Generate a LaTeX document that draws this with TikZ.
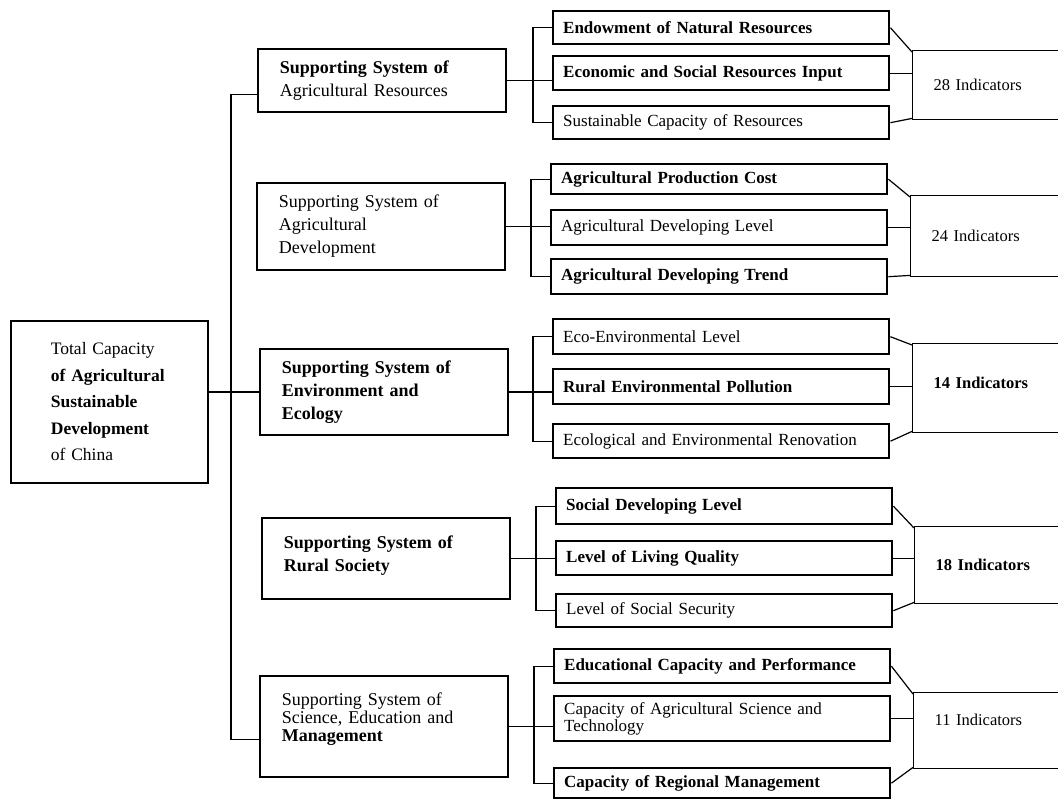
\documentclass[tikz,border=0pt]{standalone}
\usepackage{fontspec}
\setmainfont{Liberation Serif}[WordSpace=1.6]
\begin{document}
\begin{tikzpicture}[x=1pt,y=-1pt,
  every node/.style={anchor=north west, inner ysep=0pt, align=left},
  base/.style={draw, font=\fontsize{17}{19}\selectfont},
  subbox/.style={base, line width=2.4pt, text width=316pt, inner xsep=10pt},
  mainbox/.style={base, line width=1.8pt, text width=204pt, inner xsep=22pt, minimum width=248pt, font=\fontsize{18}{23}\selectfont},
  indbox/.style={base, line width=1.4pt, text width=116pt, inner xsep=21pt, minimum width=158pt, font=\fontsize{16.5}{19}\selectfont},
  totbox/.style={base, line width=1.8pt, text width=117pt, inner xsep=40pt, minimum width=197pt, font=\fontsize{17.5}{26.5}\selectfont},
  link/.style={line width=1.2pt}
]
\useasboundingbox (0,0) rectangle (1058,800);
\clip (0,0) rectangle (1058,800);

% root
\node[totbox, minimum height=162pt] (L) at (10,320) {Total Capacity\\\textbf{of Agricultural}\\\textbf{Sustainable}\\\textbf{Development}\\of China};

% main systems
\node[mainbox, minimum height=63pt] (m1) at (257,48) {\textbf{Supporting System of}\\Agricultural Resources};
\node[mainbox, minimum height=87pt] (m2) at (256,182) {Supporting System of\\Agricultural\\Development};
\node[mainbox, minimum height=86pt] (m3) at (259,348) {\textbf{Supporting System of}\\\textbf{Environment and}\\\textbf{Ecology}};
\node[mainbox, minimum height=81pt] (m4) at (261,517) {\textbf{Supporting System of}\\\textbf{Rural Society}\rule[-10pt]{0pt}{0pt}};
\node[mainbox, minimum height=101pt, font=\fontsize{18}{18}\selectfont] (m5) at (259,675) {Supporting System of\\Science, Education and\\\textbf{Management}\rule[-18pt]{0pt}{0pt}};

% group 1
\node[subbox, minimum height=33pt] (s11) at (552,10) {\textbf{Endowment of Natural Resources}};
\node[subbox, minimum height=34pt] (s12) at (552,55) {\textbf{Economic and Social Resources Input}};
\node[subbox, minimum height=33pt] (s13) at (552,105) {Sustainable Capacity of Resources};
\node[indbox, minimum height=69pt] (i1) at (912,50) {28 Indicators};

% group 2
\node[subbox, minimum height=30pt] (s21) at (550,163) {\textbf{Agricultural Production Cost}};
\node[subbox, minimum height=35pt] (s22) at (550,209) {Agricultural Developing Level};
\node[subbox, minimum height=35pt] (s23) at (550,258) {\textbf{Agricultural Developing Trend}};
\node[indbox, minimum height=81pt] (i2) at (910,195) {24 Indicators};

% group 3
\node[subbox, minimum height=35pt] (s31) at (552,318) {Eco-Environmental Level};
\node[subbox, minimum height=35pt] (s32) at (552,368) {\textbf{Rural Environmental Pollution}};
\node[subbox, minimum height=34pt] (s33) at (552,423) {Ecological and Environmental Renovation};
\node[indbox, minimum height=89pt] (i3) at (912,343) {\textbf{14 Indicators}\rule[-10pt]{0pt}{0pt}};

% group 4
\node[subbox, minimum height=36pt] (s41) at (555,487) {\textbf{Social Developing Level}};
\node[subbox, minimum height=34pt] (s42) at (555,540) {\textbf{Level of Living Quality}};
\node[subbox, minimum height=33pt] (s43) at (555,593) {Level of Social Security};
\node[indbox, minimum height=77pt] (i4) at (914,526) {\textbf{18 Indicators}};

% group 5
\node[subbox, minimum height=34pt] (s51) at (553,648) {\textbf{Educational Capacity and Performance}};
\node[subbox, minimum height=45pt, font=\fontsize{17}{16.5}\selectfont] (s52) at (553,695) {Capacity of Agricultural Science and\\Technology};
\node[subbox, minimum height=30pt] (s53) at (553,767) {\textbf{Capacity of Regional Management}};
\node[indbox, minimum height=76pt] (i5) at (913,692) {11 Indicators\rule[-22pt]{0pt}{0pt}};

% trunk
\draw[link] ([yshift=-14pt]m1.west) -- ++(-26,0) |- ([yshift=-13pt]m5.west);
\draw[link] (L.east |- m3.west) -- (m3.west);

% branches
\foreach \m/\a/\b/\c in {m1/s11/s12/s13, m2/s21/s22/s23, m3/s31/s32/s33, m4/s41/s42/s43, m5/s51/s52/s53}{
  \draw[link] (\m.east) -- (\m.east -| \b.west);
  \draw[link] (\a.west) -- ++(-19,0) |- (\c.west);
}

% to indicators
\foreach \a/\b/\c/\i in {s11/s12/s13/i1, s21/s22/s23/i2, s31/s32/s33/i3, s41/s42/s43/i4, s51/s52/s53/i5}{
  \draw[link] (\a.east) -- ([yshift=-2pt]\i.north west);
  \draw[link] (\b.east) -- (\b.east -| \i.west);
  \draw[link] (\c.east) -- ([yshift=2pt]\i.south west);
}
\end{tikzpicture}
\end{document}
